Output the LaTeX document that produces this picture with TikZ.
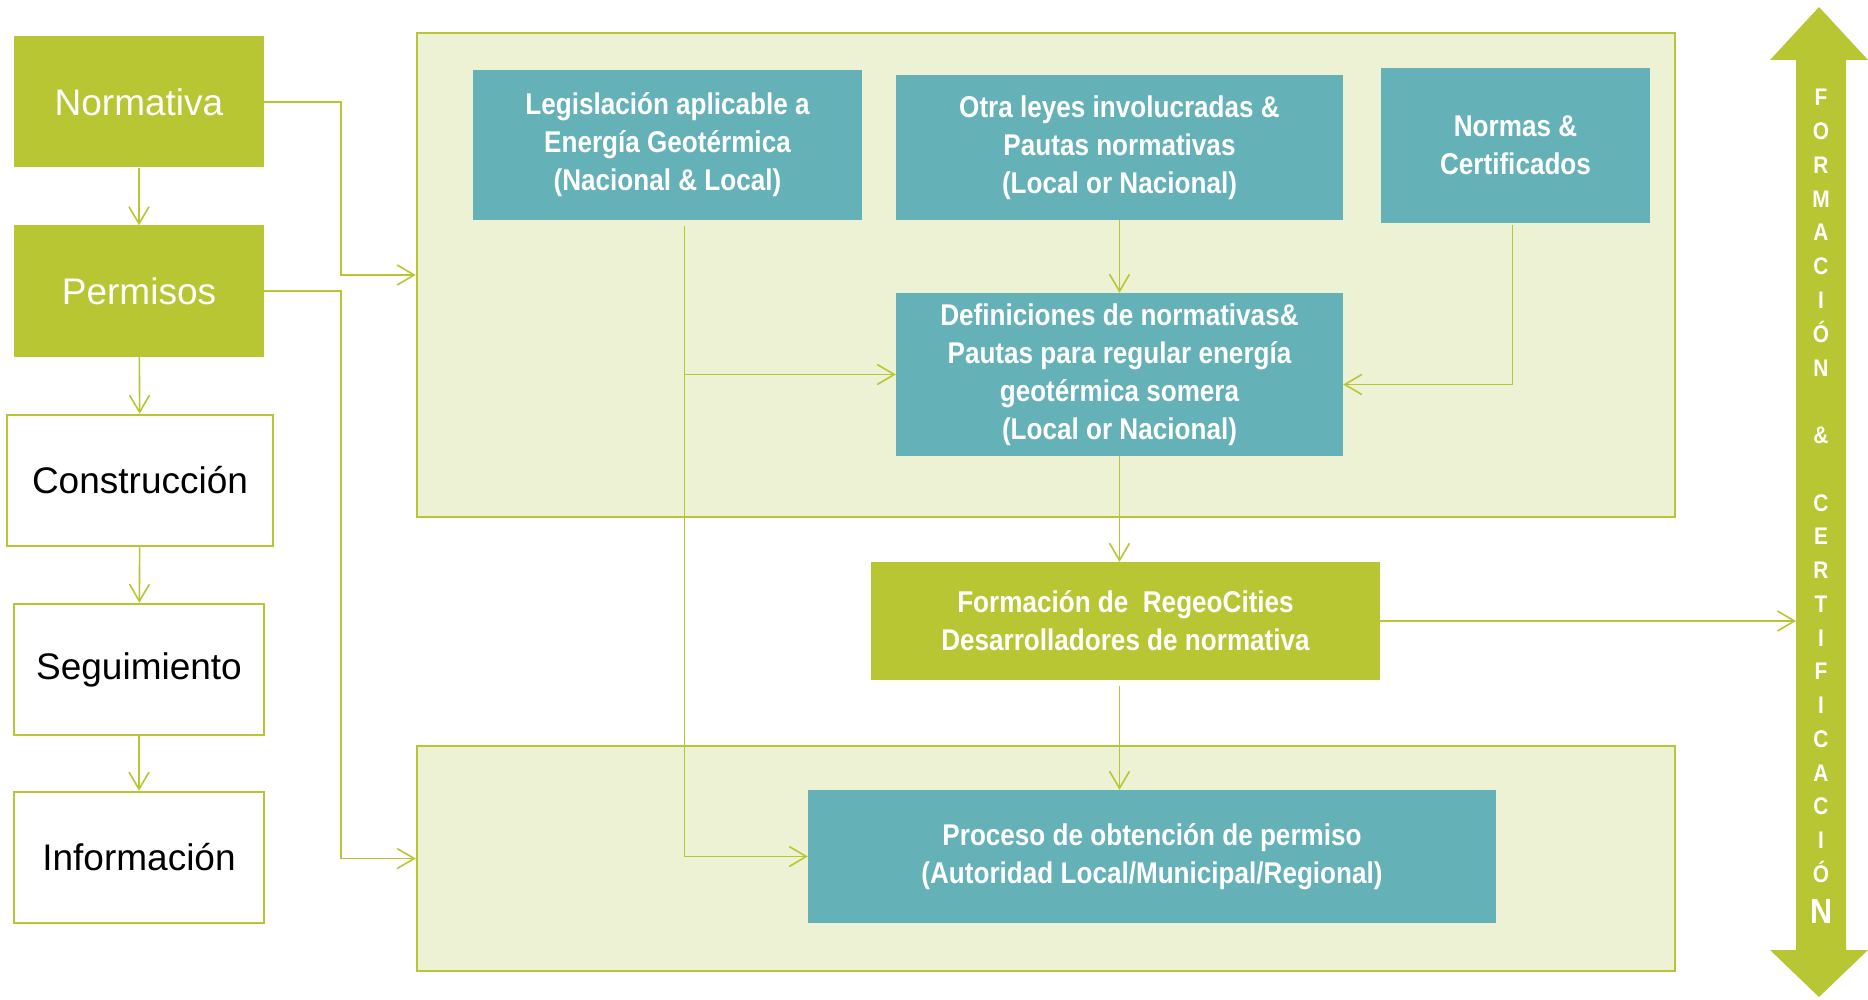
\documentclass[tikz,border=0pt]{standalone}
\usepackage{fontspec}
\setmainfont{Liberation Sans}
\newfontfamily\narrowsans[FakeStretch=0.87]{Liberation Sans}
\usetikzlibrary{arrows.meta,calc}
\definecolor{rgeogreen}{RGB}{184,198,52}
\definecolor{rgeoteal}{RGB}{100,177,183}
\definecolor{rgeopale}{RGB}{238,242,212}
\tikzset{
	conn/.style={draw=rgeogreen,line width=1.6pt,-{Straight Barb[length=17pt,width=20pt]}},
	panel/.style={draw=rgeogreen,fill=rgeopale,line width=2.5pt,inner sep=0pt},
	stage/.style={minimum width=250pt,minimum height=131pt,inner sep=0pt,font=\fontsize{37}{40}\selectfont},
	fullstage/.style={stage,fill=rgeogreen,text=white},
	openstage/.style={stage,draw=rgeogreen,line width=2.5pt,text=black},
	tealbox/.style={fill=rgeoteal,text=white,align=center,inner sep=0pt,font=\narrowsans\bfseries\fontsize{30}{38}\selectfont},
	letter/.style={text=white,anchor=base,inner sep=0pt,font=\narrowsans\bfseries\fontsize{24}{24}\selectfont}
}
\begin{document}
\begin{tikzpicture}[x=1pt,y=-1pt]
	\useasboundingbox (0,0) rectangle (1868,1000);
	% stages on the left
	\node[fullstage] (norm) at (139,102) {Normativa};
	\node[fullstage] (perm) at (139,291) {Permisos};
	\node[openstage,minimum width=266pt] (constr) at (140,480.5) {Construcción};
	\node[openstage] (segui) at (139,669.5) {Seguimiento};
	\node[openstage] (info) at (139,857.5) {Información};
	\foreach \a/\b in {norm/perm,perm/constr,constr/segui,segui/info} \draw[conn] (\a) -- (\b);
	% panels
	\node[panel,minimum width=1258pt,minimum height=484pt] (toppanel) at (1046,275) {};
	\node[panel,minimum width=1258pt,minimum height=225pt] (botpanel) at (1046,858.5) {};
	\draw[conn] (norm.east) -- ++(77,0) |- (toppanel.west);
	\draw[conn] (perm.east) -- ++(77,0) |- (botpanel.west);
	% boxes
	\node[tealbox,minimum width=389pt,minimum height=150pt] (legis) at (667.5,145) {Legislación aplicable a\\Energía Geotérmica\\(Nacional \& Local)};
	\node[tealbox,minimum width=447pt,minimum height=145pt] (otra) at (1119.5,147.5) {Otra leyes involucradas \&\\Pautas normativas\\(Local or Nacional)};
	\node[tealbox,minimum width=269pt,minimum height=155pt] (normas) at (1515.5,145.5) {Normas \&\\Certificados};
	\node[tealbox,minimum width=447pt,minimum height=163pt] (defin) at (1119.5,374.5) {Definiciones de normativas\&\\Pautas para regular energía\\geotérmica somera\\(Local or Nacional)};
	\node[tealbox,fill=rgeogreen,minimum width=509pt,minimum height=118pt] (formacion) at (1125.5,621) {Formación de\ \ RegeoCities\\Desarrolladores de normativa};
	\node[tealbox,minimum width=688pt,minimum height=133pt] (proceso) at (1152,856.5) {Proceso de obtención de permiso\\(Autoridad Local/Municipal/Regional)};
	% formacion & certificacion
	\fill[rgeogreen] (1819,7) -- (1868,60) -- (1846,60) -- (1846,950) -- (1868,950) -- (1819,997) -- (1770,950) -- (1796,950) -- (1796,60) -- (1770,60) -- cycle;
	\coordinate (shaft) at (1796,621);
	\foreach \l [count=\i from 0] in {F,O,R,M,A,C,I,Ó,N,{},\&,{},C,E,R,T,I,F,I,C,A,C,I,Ó}
		\node[letter] (fc\i) at (1821,106+33.75*\i) {\l};
	\node[letter,font=\narrowsans\bfseries\fontsize{35}{35}\selectfont] (fc24) at (1821,923) {N};
	% connectors
	\draw[conn] ($(legis.south)+(17,6)$) coordinate (lg) |- (proceso.west);
	\draw[conn] (lg |- defin.west) -- (defin.west);
	\draw[conn] (otra.south) -- (defin.north);
	\draw[conn] ($(normas.south)+(-3,2)$) |- ($(defin.east)+(0,10)$);
	\draw[conn] (defin.south) -- (defin.south |- formacion.north);
	\draw[conn] ($(defin.south |- formacion.south)+(0,6)$) -- (defin.south |- proceso.north);
	\draw[conn] (formacion.east) -- (shaft);
\end{tikzpicture}
\end{document}
